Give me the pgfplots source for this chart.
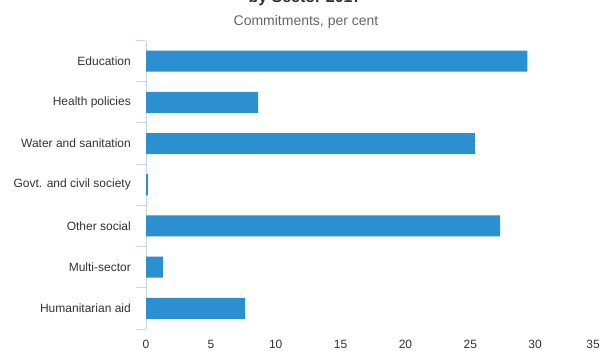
\documentclass[border=0pt]{standalone}
\usepackage{pgfplots}
\pgfplotsset{compat=1.18}
\usepackage{fontspec}
\setmainfont{Liberation Sans}
\definecolor{barblue}{HTML}{2B8FD0}
\definecolor{axiscol}{HTML}{CCD6EB}
\definecolor{labcol}{HTML}{333333}
\definecolor{subcol}{HTML}{666666}
\begin{document}
\begin{tikzpicture}[x=1bp,y=1bp]
\path[use as bounding box] (0,0) rectangle (602,350);
\clip (0,0) rectangle (602,350);
\node[anchor=base, font=\bfseries\fontsize{16bp}{19bp}\selectfont, text=labcol] at (305,347.5) {by Sector 2017};
\node[anchor=base, font=\fontsize{14bp}{17bp}\selectfont, text=subcol] at (306,324.5) {Commitments, per cent};
\begin{axis}[
  at={(146bp,21bp)}, anchor=south west,
  scale only axis, width=454bp, height=288.5bp,
  xmin=0, xmax=35, ymin=-0.5, ymax=6.5,
  y dir=reverse,
  xbar, bar width=0.51,
  axis lines*=left,
  x axis line style={draw=none},
  y axis line style={draw=axiscol, line width=1bp},
  xtick={0,5,...,30},
  xtick style={draw=none},
  extra x ticks={35},
  extra x tick style={xticklabel style={xshift=-7bp}},
  ytick={-0.5,0.5,...,6.5},
  yticklabels={},
  ytick pos=left, tick align=outside,
  ytick style={draw=axiscol, line width=1bp},
  major tick length=10bp,
  extra y ticks={0,...,6},
  extra y tick labels={Education,Health policies,Water and sanitation,Govt. and civil society,Other social,Multi-sector,Humanitarian aid},
  extra y tick style={major tick length=0pt},
  /pgf/number format/assume math mode=true,
  ticklabel style={font=\fontsize{12bp}{14bp}\selectfont, text=labcol},
  xticklabel style={anchor=center, yshift=-5bp},
  yticklabel style={anchor=east, inner sep=0pt, xshift=-15bp},
  clip=false,
]
\addplot[draw=none, fill=barblue] coordinates {
(29.4,0) (8.64,1) (25.35,2) (0.15,3) (27.3,4) (1.3,5) (7.63,6)
};
\end{axis}
\end{tikzpicture}
\end{document}
